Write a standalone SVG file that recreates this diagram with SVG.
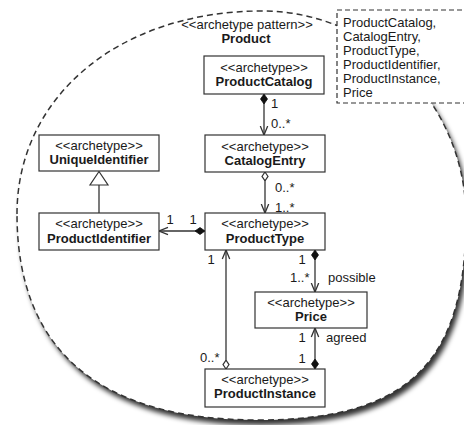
<svg xmlns="http://www.w3.org/2000/svg" width="464" height="425" viewBox="0 0 464 425">
<style>
text{font-family:"Liberation Sans",Arial,sans-serif;font-size:13px;fill:#1a1a1a}
.b{font-weight:bold}
.m{text-anchor:middle}
.box{fill:#fff;stroke:#333;stroke-width:1.2}
.ln{fill:none;stroke:#333;stroke-width:1.3}
.dash{fill:none;stroke:#333;stroke-width:1.5;stroke-dasharray:6 4}
</style>
<defs>
<filter id="blur" x="-10%" y="-10%" width="120%" height="120%"><feGaussianBlur stdDeviation="2.5"/></filter>
<marker id="open" viewBox="0 0 10 10" refX="9.5" refY="5" markerWidth="10" markerHeight="10" markerUnits="userSpaceOnUse" orient="auto"><path d="M0.5,1.3 L9.5,5 L0.5,8.7" fill="none" stroke="#333" stroke-width="1.3"/></marker>
<marker id="dia" viewBox="0 0 10 10" refX="0" refY="5" markerWidth="10" markerHeight="10" markerUnits="userSpaceOnUse" orient="auto"><path d="M0,5 L5,1.5 L10,5 L5,8.5 Z" fill="#111" stroke="#111" stroke-width="0.8"/></marker>
<marker id="hdia" viewBox="0 0 10 10" refX="0.6" refY="5" markerWidth="10" markerHeight="10" markerUnits="userSpaceOnUse" orient="auto"><path d="M0.6,5 L5,2 L9.4,5 L5,8 Z" fill="#fff" stroke="#333" stroke-width="1.2"/></marker>
<path id="ring" d="M17,214 C17,96 120,11 262,11 C374,11 466,104 466,218 C466,363 408,420 258,420 C99,420 17,350 17,214 Z"/>
</defs>
<rect width="464" height="425" fill="#fff"/>
<g id="pattern">
<use href="#ring" transform="translate(3,5)" fill="#000" fill-opacity="0.8" filter="url(#blur)"/>
<use href="#ring" fill="#fff"/>
<use href="#ring" class="dash"/>
<text class="m" x="247" y="29">&lt;&lt;archetype pattern&gt;&gt;</text>
<text class="m b" x="246" y="43">Product</text>
</g>
<g id="note">
<rect x="337" y="10" width="135" height="93" fill="#fff" stroke="#333" stroke-width="1.2" stroke-dasharray="5 3"/>
<text x="343" y="27">ProductCatalog,</text>
<text x="343" y="41">CatalogEntry,</text>
<text x="343" y="55">ProductType,</text>
<text x="343" y="69">ProductIdentifier,</text>
<text x="343" y="82.5">ProductInstance,</text>
<text x="343" y="96.5">Price</text>
</g>
<g id="connectors">
<path class="ln" d="M264,94 L264,135" marker-start="url(#dia)" marker-end="url(#open)"/>
<path class="ln" d="M265,172 L265,213" marker-start="url(#hdia)" marker-end="url(#open)"/>
<path class="ln" d="M205,231 L159,231" marker-start="url(#dia)" marker-end="url(#open)"/>
<path class="ln" d="M315,250 L315,292" marker-start="url(#dia)" marker-end="url(#open)"/>
<path class="ln" d="M315,369 L315,328" marker-start="url(#dia)" marker-end="url(#open)"/>
<path class="ln" d="M226,369 L226,250" marker-start="url(#hdia)" marker-end="url(#open)"/>
<path class="ln" d="M99,213 L99,185"/>
<polygon points="99,171.5 90,185 108,185" fill="#fff" stroke="#333" stroke-width="1.2"/>
<text x="271" y="108">1</text>
<text x="271" y="128">0..*</text>
<text x="275" y="192">0..*</text>
<text x="275" y="212">1..*</text>
<text class="m" x="170" y="224">1</text>
<text class="m" x="193" y="224">1</text>
<text class="m" x="302" y="264">1</text>
<text x="290" y="282">1..*</text>
<text x="328" y="282">possible</text>
<text class="m" x="302" y="342">1</text>
<text x="326" y="342">agreed</text>
<text class="m" x="302" y="363">1</text>
<text class="m" x="211" y="264">1</text>
<text x="200" y="362">0..*</text>
</g>
<g id="ProductCatalog">
<rect class="box" x="204" y="56" width="120" height="38"/>
<text class="m" x="264" y="72">&lt;&lt;archetype&gt;&gt;</text>
<text class="m b" x="264" y="86">ProductCatalog</text>
</g>
<g id="CatalogEntry">
<rect class="box" x="205" y="135" width="120" height="37"/>
<text class="m" x="265" y="151">&lt;&lt;archetype&gt;&gt;</text>
<text class="m b" x="265" y="165">CatalogEntry</text>
</g>
<g id="UniqueIdentifier">
<rect class="box" x="39" y="135" width="120" height="36"/>
<text class="m" x="99" y="150">&lt;&lt;archetype&gt;&gt;</text>
<text class="m b" x="99" y="164">UniqueIdentifier</text>
</g>
<g id="ProductIdentifier">
<rect class="box" x="39" y="213" width="120" height="37"/>
<text class="m" x="99" y="228">&lt;&lt;archetype&gt;&gt;</text>
<text class="m b" x="99" y="243">ProductIdentifier</text>
</g>
<g id="ProductType">
<rect class="box" x="205" y="213" width="120" height="37"/>
<text class="m" x="265" y="228">&lt;&lt;archetype&gt;&gt;</text>
<text class="m b" x="265" y="243">ProductType</text>
</g>
<g id="Price">
<rect class="box" x="255" y="292" width="112" height="36"/>
<text class="m" x="311" y="307">&lt;&lt;archetype&gt;&gt;</text>
<text class="m b" x="311" y="320.5">Price</text>
</g>
<g id="ProductInstance">
<rect class="box" x="205" y="369" width="120" height="38"/>
<text class="m" x="265" y="384">&lt;&lt;archetype&gt;&gt;</text>
<text class="m b" x="265" y="398">ProductInstance</text>
</g>
</svg>
